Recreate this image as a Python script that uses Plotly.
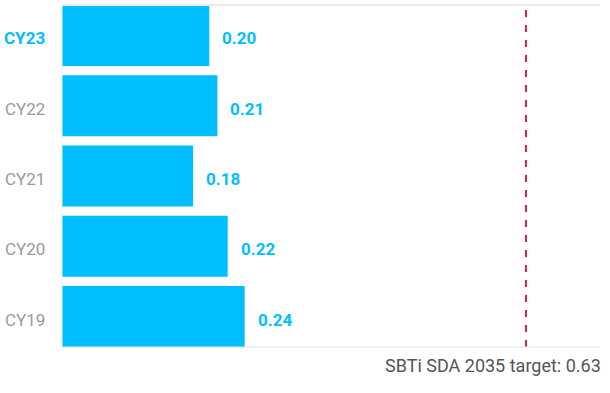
import plotly.graph_objects as go

categories = ["CY19", "CY20", "CY21", "CY22", "CY23"]
values = [0.248, 0.225, 0.178, 0.211, 0.200]
value_labels = ["0.24", "0.22", "0.18", "0.21", "0.20"]
target_value = 0.63
target_label = "SBTi SDA 2035 target: 0.63"
highlight = "CY23"

BLUE = "#00BFFF"
FONT = "Roboto"
BAR_W = 0.868

fig = go.Figure()
fig.add_trace(go.Bar(
    y=categories, x=values, orientation="h",
    marker=dict(color=BLUE, line=dict(width=0)),
    hoverinfo="skip", showlegend=False,
))

annotations = []
for cat, v, lab in zip(categories, values, value_labels):
    annotations.append(dict(
        x=v, y=cat, xref="x", yref="y", text=f"<b>{lab}</b>",
        showarrow=False, xanchor="left", yanchor="middle", xshift=11, yshift=-3,
        font=dict(family=FONT, size=17, color=BLUE),
    ))
    is_hl = cat == highlight
    annotations.append(dict(
        x=0, y=cat, xref="paper", yref="y",
        text=f"<b>{cat}</b>" if is_hl else cat,
        showarrow=False, xanchor="right", yanchor="middle", xshift=-15, yshift=-3,
        font=dict(family=FONT, size=17, color=BLUE if is_hl else "#9a9a9a"),
    ))
annotations.append(dict(
    x=1, y=0, xref="paper", yref="paper", text=target_label,
    showarrow=False, xanchor="right", yanchor="top", yshift=-6, xshift=3,
    font=dict(family=FONT, size=18, color="#555555"),
))

shapes = [
    dict(type="line", xref="x", yref="paper", x0=target_value, x1=target_value,
         y0=0, y1=1, line=dict(color="#E8185A", width=2, dash="7px,8px")),
    dict(type="line", xref="paper", yref="paper", x0=0, x1=1, y0=1, y1=1,
         line=dict(color="#ebebeb", width=2)),
    dict(type="line", xref="paper", yref="paper", x0=0, x1=1, y0=0, y1=0,
         line=dict(color="#e3e3e3", width=1)),
    dict(type="line", xref="paper", yref="paper", x0=0, x1=0, y0=0, y1=1,
         line=dict(color="#eeeeee", width=1)),
]

fig.update_layout(
    width=610, height=393,
    margin=dict(l=62, r=10, t=5, b=46),
    paper_bgcolor="white", plot_bgcolor="white",
    bargap=1 - BAR_W,
    xaxis=dict(range=[0, 0.7305], visible=False, fixedrange=True),
    yaxis=dict(categoryorder="array", categoryarray=categories,
               range=[-BAR_W / 2, len(categories) - 1 + BAR_W / 2],
               showticklabels=False, showgrid=False, zeroline=False,
               showline=False, fixedrange=True),
    annotations=annotations, shapes=shapes,
    font=dict(family=FONT),
)

fig.write_html("out.html", config={"displayModeBar": False},
               post_script="document.body.style.margin='0';document.body.style.overflow='hidden';")
